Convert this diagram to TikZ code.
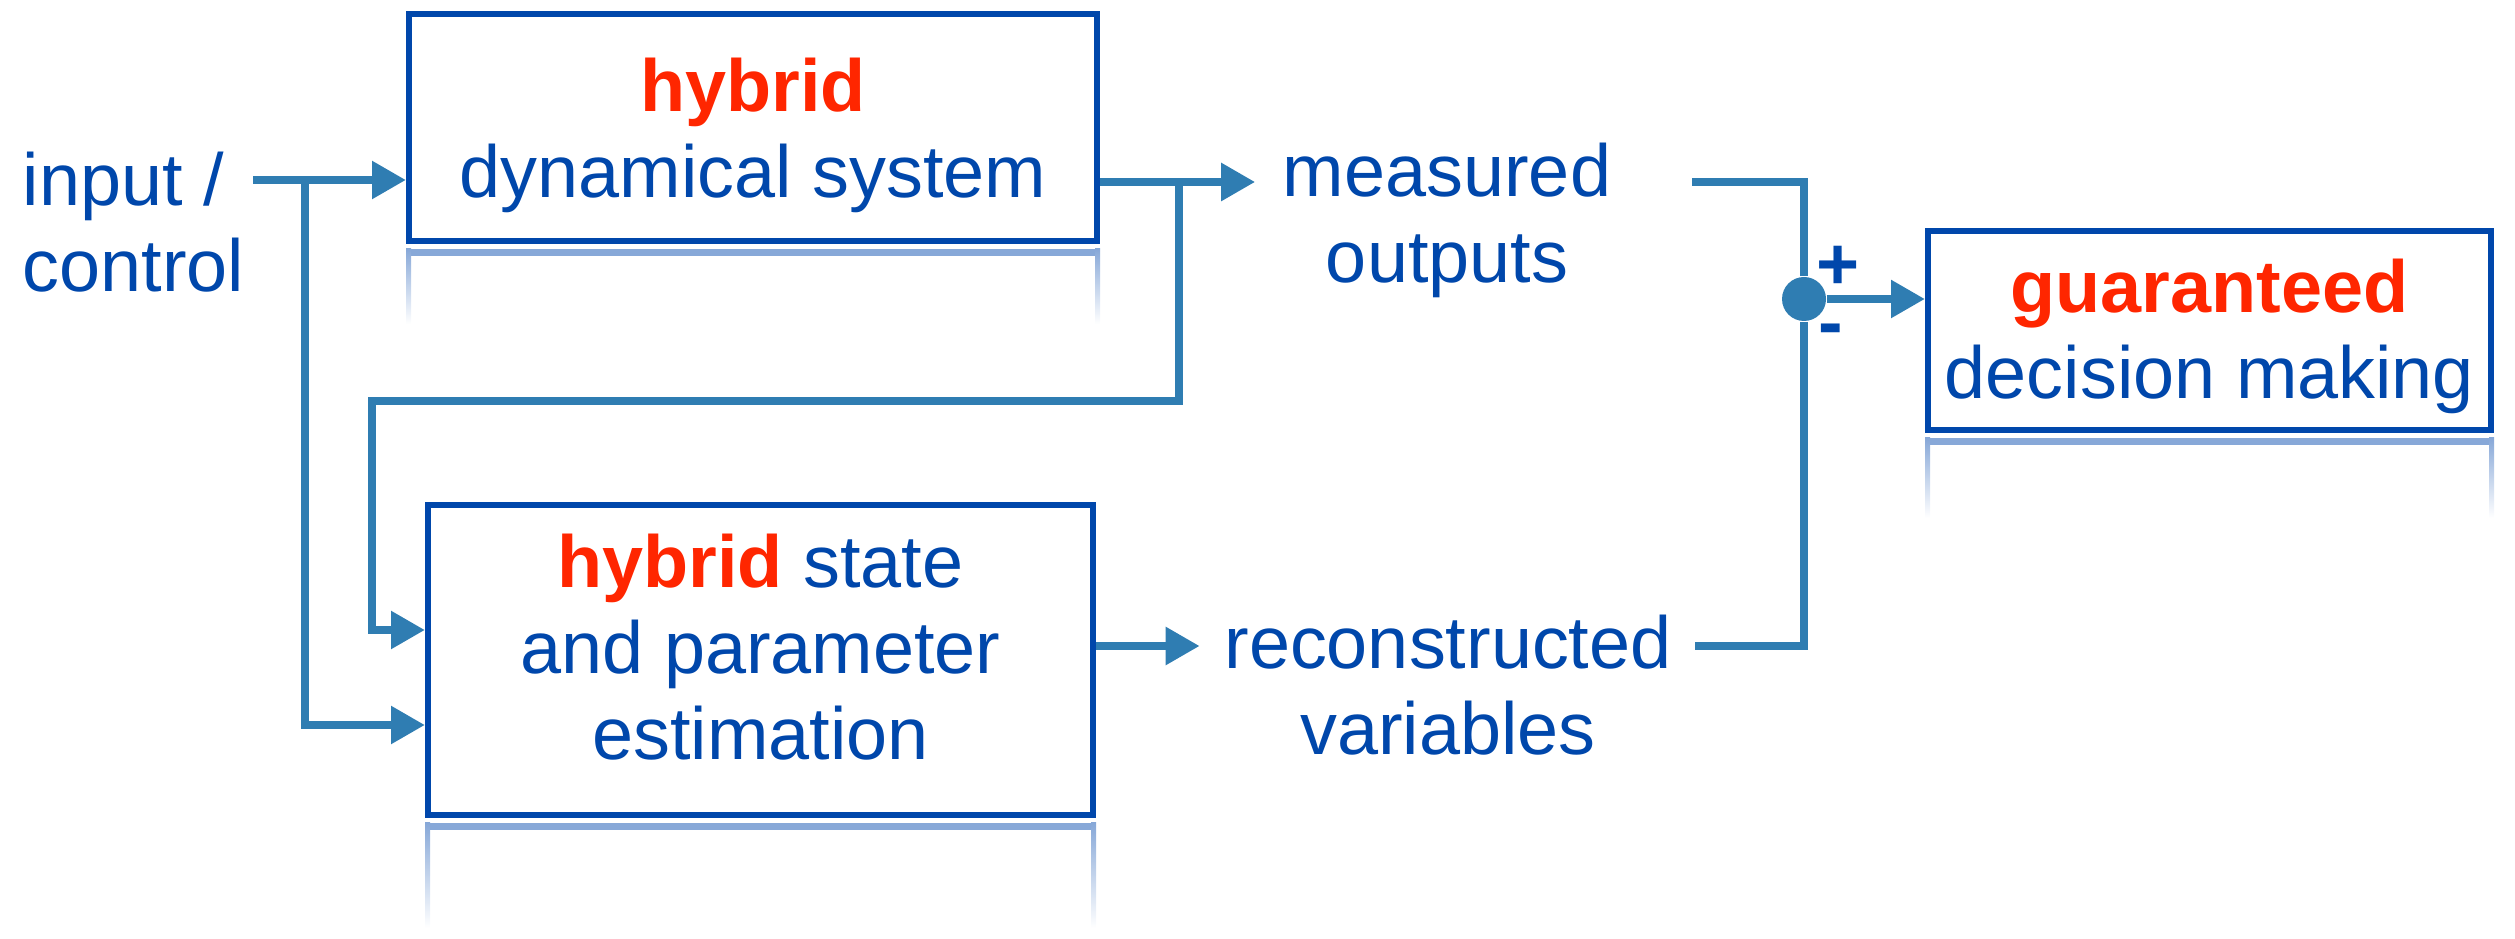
\documentclass[tikz,border=0pt]{standalone}
\usepackage{fontspec}
\setmainfont{Liberation Sans}
\usetikzlibrary{arrows.meta,shapes}
\definecolor{txtblue}{RGB}{0,71,171}
\definecolor{hotred}{RGB}{255,38,0}
\definecolor{wire}{RGB}{47,125,178}
\definecolor{glow}{RGB}{135,168,216}
\tikzstyle{blk}=[draw=txtblue,line width=1.7pt,fill=white,align=center,text=txtblue,inner sep=0pt,font=\fontsize{21}{24.5}\selectfont]
\tikzstyle{lbl}=[text=txtblue,align=center,inner sep=0pt,font=\fontsize{21}{24.5}\selectfont]
\tikzstyle{wr}=[draw=wire,line width=2.4pt]
\tikzstyle{ar}=[wr,-{Triangle[length=.34cm,width=.36cm]}]
\newcommand{\hy}[1]{\textcolor{hotred}{\bfseries #1}}
\newcommand{\mirror}[2]{%
\fill[glow] ([yshift=-.05cm]#1.south west) rectangle ([yshift=-.12cm]#1.south east);
\shade[top color=glow,bottom color=white] ([yshift=-.05cm]#1.south west) rectangle ([xshift=.05cm,yshift=-#2]#1.south west);
\shade[top color=glow,bottom color=white] ([xshift=-.05cm,yshift=-.05cm]#1.south east) rectangle ([yshift=-#2]#1.south east);}

\begin{document}
\begin{tikzpicture}
\useasboundingbox (0,0) rectangle (25.15,9.38);
\node[blk,minimum width=6.88cm,minimum height=2.27cm] (sys) at (7.53,8.105) {\rule{0pt}{.69cm}\hy{hybrid}\\dynamical system};
\node[blk,minimum width=6.65cm,minimum height=3.10cm] (est) at (7.605,2.78) {\hy{hybrid} state\\and parameter\\estimation\rule[-.26cm]{0pt}{0pt}};
\node[blk,minimum width=5.63cm,minimum height=1.99cm] (dec) at (22.095,6.075) {\rule{0pt}{.65cm}\hy{guaranteed}\\decision making};
\mirror{sys}{.8cm}
\mirror{est}{1.1cm}
\mirror{dec}{.85cm}
\node[lbl,align=left,anchor=west] (inp) at (0.22,7.16) {input /\\control};
\node[lbl] (meas) at (14.47,7.18) {measured\\outputs};
\node[lbl] (rec) at (14.48,2.53) {reconstructed\\variables};
\node[circle,fill=wire,minimum size=.44cm,inner sep=0pt] (sum) at (18.04,6.39) {};
\node[lbl,font=\fontsize{21}{24.5}\selectfont\bfseries] (plus) at (18.38,6.70) {+};
\node[lbl,font=\fontsize{21}{24.5}\selectfont\bfseries] (minus) at (18.31,6.02) {-};
\coordinate (in0) at (2.53,7.58);
\coordinate (br0) at (3.05,7.58);
\coordinate (fb) at (11.79,7.56);
\coordinate (m1) at (16.92,7.56);
\coordinate (r1) at (16.95,2.92);
\draw[ar] (in0) -- (in0 -| sys.west);
\draw[ar] (br0) |- ([yshift=-6.5mm]est.west);
\draw[ar,shorten >=.27cm] (sys.east |- fb) -- (meas.west |- fb);
\draw[ar] (fb) |- (3.72,5.37) |- ([yshift=3mm]est.west);
\draw[ar,shorten >=.24cm] (est.east |- r1) -- (rec.west |- r1);
\draw[wr] (m1) -| (sum);
\draw[wr] (r1) -| (sum);
\draw[ar] (sum) -- (sum -| dec.west);
\end{tikzpicture}
\end{document}
